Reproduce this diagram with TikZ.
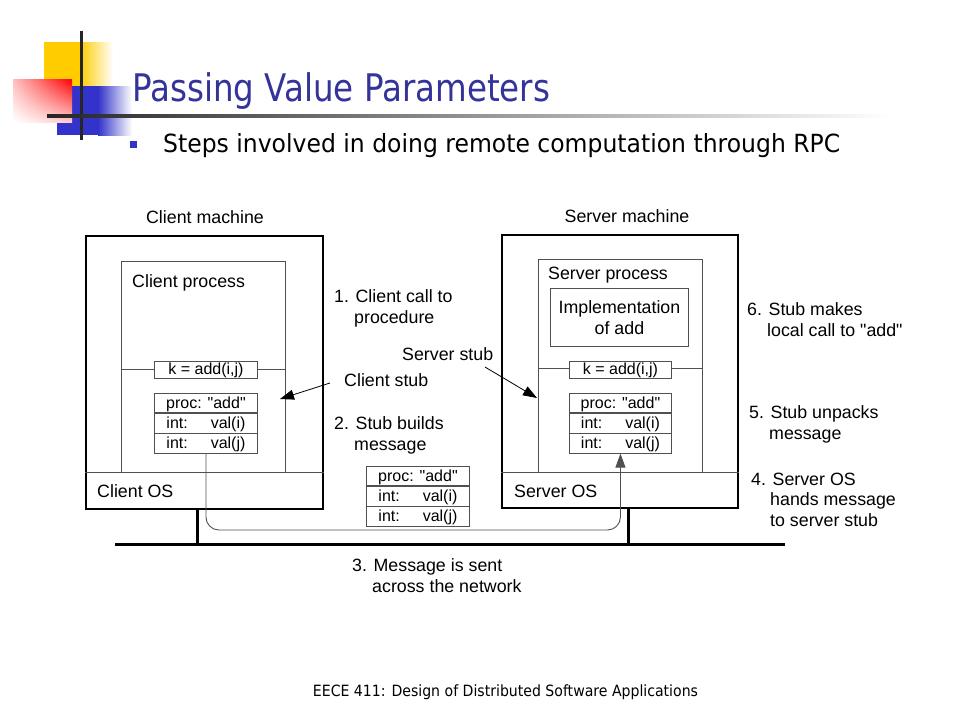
\documentclass[tikz,border=0pt]{standalone}
\usepackage{fontspec}
\setmainfont{Liberation Sans}[Ligatures=TeXOff]
\newfontfamily\tah{DejaVu Sans}
\usepackage{graphicx}
\usetikzlibrary{arrows.meta,shadings}
\definecolor{titleblue}{HTML}{333399}
\definecolor{logoblue}{HTML}{3333CC}
\definecolor{logoyellow}{HTML}{FFCC00}
\definecolor{linegray}{HTML}{505050}
\begin{document}
\begin{tikzpicture}[x=1pt,y=-1pt,
  mach/.style={draw=black, line width=2.4pt, inner sep=0pt, anchor=north west},
  procbox/.style={draw=linegray, line width=0.9pt, inner sep=0pt, anchor=north west},
  thin/.style={draw=linegray, line width=0.9pt},
  net/.style={draw=black, line width=3pt},
  lbl/.style={anchor=base west, inner sep=0pt, align=left, font=\fontsize{17.8}{20.5}\selectfont},
  row/.style={draw=linegray, line width=0.9pt, minimum width=103pt, minimum height=19.3pt,
     inner sep=0pt, anchor=north west, fill=white, text height=11.5pt, text depth=1.5pt,
     font=\fontsize{16}{16}\selectfont},
  kbox/.style={row, minimum height=17pt},
  arr/.style={draw=black, line width=0.8pt, -{Triangle[length=14pt,width=10pt]}}
]
\useasboundingbox (0,0) rectangle (960,720);
\fill[white] (0,0) rectangle (960,720);

% ---- logo ----
\fill[logoyellow] (44,42) rectangle (80,86);
\shade[left color=logoyellow, right color=white] (80,42) rectangle (113,86);
\fill[logoblue] (57,86) rectangle (98,135);
\shade[left color=logoblue, right color=white] (98,86) rectangle (132,135);
\shade[upper left=red!25, upper right=red, lower left=white, lower right=red!20] (13,79) rectangle (72,122);
\fill[black!85] (79.5,31) rectangle (82.5,140);
\shade[left color=black!85, right color=white] (47,114.5) rectangle (892,117.5);

% ---- title ----
\node[anchor=base west, inner sep=0pt, text=titleblue, font=\tah\fontsize{38}{38}\selectfont] (title) at (132,101)
  {\resizebox{418pt}{\height}{Passing Value Parameters}};
\node[fill=logoblue, minimum size=7pt, inner sep=0pt] (bullet) at (133.5,144.5) {};
\node[anchor=base west, inner sep=0pt, font=\tah\fontsize{25}{25}\selectfont] (sub) at (163,152)
  {\resizebox{677pt}{\height}{Steps involved in doing remote computation through RPC}};
\node[anchor=base, inner sep=0pt, font=\tah\fontsize{15.5}{15.5}\selectfont] (foot) at (505.5,696)
  {\resizebox{385pt}{\height}{EECE 411: Design of Distributed Software Applications}};

% ---- client machine ----
\node[mach, minimum width=237pt, minimum height=273pt] (cmach) at (85,235) {};
\node[procbox, minimum width=164pt, minimum height=211pt] (cproc) at (121,261) {};
\draw[thin] (cmach.west |- 0,472) -- (cmach.east |- 0,472);
\draw[thin] (cproc.west |- 0,369.5) -- (cproc.east |- 0,369.5);
\node[kbox] (ck) at (154,361) {k = add(i,j)};
\node[row] (cm1) at (154,393) {proc: "add"};
\node[row] (cm2) at (cm1.south west) {\makebox[79pt]{int:\hfill val(i)}};
\node[row] (cm3) at (cm2.south west) {\makebox[79pt]{int:\hfill val(j)}};
\node[lbl, anchor=base] (cmlabel) at (205,223) {Client machine};
\node[lbl] (cproclabel) at (132,287) {Client process};
\node[lbl] (coslabel) at (97,497) {Client OS};

% ---- server machine ----
\node[mach, minimum width=236pt, minimum height=273pt] (smach) at (501,234) {};
\node[procbox, minimum width=164pt, minimum height=213pt] (sproc) at (538,259) {};
\draw[thin] (smach.west |- 0,472) -- (smach.east |- 0,472);
\draw[thin] (sproc.west |- 0,368.5) -- (sproc.east |- 0,368.5);
\node[procbox, minimum width=138pt, minimum height=58pt, align=center,
  font=\fontsize{17.8}{21}\selectfont] (impl) at (550,288) {Implementation\\of add};
\node[kbox, minimum width=102pt] (sk) at (569,361) {k = add(i,j)};
\node[row, minimum width=102pt] (sm1) at (569,393) {proc: "add"};
\node[row, minimum width=102pt] (sm2) at (sm1.south west) {\makebox[79pt]{int:\hfill val(i)}};
\node[row, minimum width=102pt] (sm3) at (sm2.south west) {\makebox[79pt]{int:\hfill val(j)}};
\node[lbl, anchor=base] (smlabel) at (627,222) {Server machine};
\node[lbl] (sproclabel) at (548,279) {Server process};
\node[lbl] (soslabel) at (514,497) {Server OS};

% ---- message in transit ----
\node[row] (mm1) at (366,466) {proc: "add"};
\node[row] (mm2) at (mm1.south west) {\makebox[79pt]{int:\hfill val(i)}};
\node[row] (mm3) at (mm2.south west) {\makebox[79pt]{int:\hfill val(j)}};

% ---- network ----
\coordinate (netL) at (115,544);
\coordinate (netR) at (785,544);
\coordinate (cstub) at (197,544);
\coordinate (sstub) at (628,544);
\draw[net] (netL) -- (netR);
\draw[net] (cstub |- cmach.south) -- (cstub);
\draw[net] (sstub |- smach.south) -- (sstub);
\coordinate (bendL) at (cm3.south |- 0,530);
\coordinate (bendR) at (sm3.south |- 0,530);
\draw[thin, rounded corners=13pt, -{Triangle[length=14pt,width=10pt]}, line width=0.9pt]
  (cm3.south) -- (bendL) -- (bendR) -- (sm3.south);

% ---- step labels (anchor = baseline of last line) ----
\node[lbl] (s1) at (334,323) {1. Client call to\\\hspace*{20pt}procedure};
\node[lbl] (s2) at (334,450) {2. Stub builds\\\hspace*{20pt}message};
\node[lbl] (s3) at (352,592) {3. Message is sent\\\hspace*{20pt}across the network};
\node[lbl] (s4) at (751,526) {4. Server OS\\\hspace*{19pt}hands message\\\hspace*{19pt}to server stub};
\node[lbl] (s5) at (749,439) {5. Stub unpacks\\\hspace*{20pt}message};
\node[lbl] (s6) at (747,336) {6. Stub makes\\\hspace*{20pt}local call to "add"};
\node[lbl] (cstublabel) at (344,386) {Client stub};
\node[lbl] (sstublabel) at (402,360) {Server stub};

\coordinate (cstubfrom) at (330,383);
\coordinate (cstubtip) at (280,399);
\coordinate (sstubfrom) at (485,367);
\coordinate (sstubtip) at (537,398);
\draw[arr] (cstubfrom) -- (cstubtip);
\draw[arr] (sstubfrom) -- (sstubtip);
\end{tikzpicture}
\end{document}
